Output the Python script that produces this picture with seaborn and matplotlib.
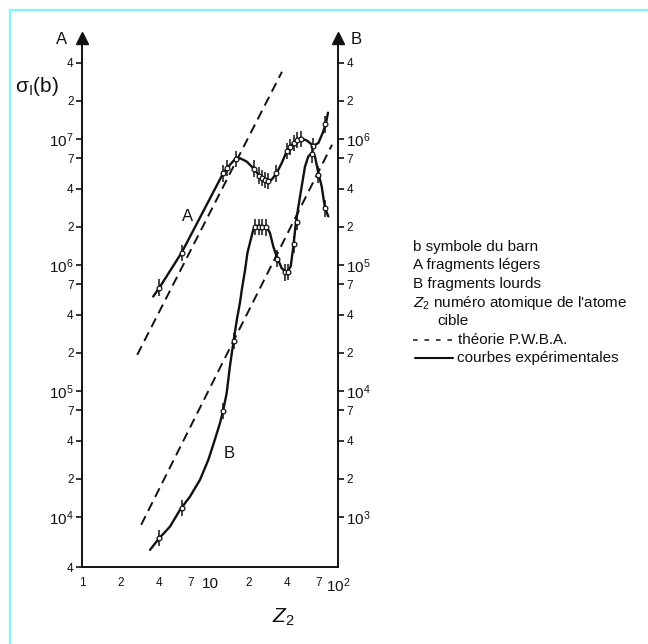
import numpy as np
import pandas as pd
import matplotlib
matplotlib.use("Agg")
import matplotlib.pyplot as plt
from matplotlib.lines import Line2D
from matplotlib.ticker import FixedLocator, FixedFormatter
import seaborn as sns

# ---- A : light fragments (left scale, barns) ----
z_curve_a = [3.60, 4.07, 6.01, 12.7, 13.9, 15.7, 17.2, 19.3, 21.8, 24.6, 27.7,
             30.3, 33.2, 36.3, 39.7, 44.8, 50.5, 56.9, 64.2, 70.2, 75.9, 80.6, 83.5]
sigma_curve_a = [5.6e5, 6.7e5, 1.25e6, 5.35e6, 6.0e6, 6.9e6, 7.0e6, 6.6e6, 5.85e6,
                 5.0e6, 4.67e6, 4.73e6, 5.35e6, 6.4e6, 7.9e6, 9.25e6, 1.01e7,
                 9.7e6, 8.8e6, 9.25e6, 1.11e7, 1.33e7, 1.61e7]
z_pts_a = [4.0, 6.0, 12.6, 13.5, 16.0, 22.0, 24.0, 25.5, 27.0, 28.5, 33.0, 40.0,
           42.0, 45.0, 48.0, 51.0, 64.0, 79.0]
sigma_pts_a = [6.6e5, 1.24e6, 5.3e6, 5.9e6, 6.9e6, 5.8e6, 5.1e6, 4.9e6, 4.7e6,
               4.65e6, 5.3e6, 8.0e6, 8.6e6, 9.3e6, 9.8e6, 1.0e7, 8.8e6, 1.3e7]
z_pwba_a = [2.7, 36.5]
sigma_pwba_a = [1.93e5, 3.4e7]

# ---- B : heavy fragments (right scale, barns) ----
z_curve_b = [3.40, 3.95, 4.87, 5.83, 6.98, 8.35, 9.70, 10.9, 11.97, 12.7, 13.5,
             14.3, 15.2, 16.2, 17.2, 17.7, 18.8, 19.6, 20.5, 21.8, 23.2, 27.7,
             29.4, 31.2, 33.2, 36.3, 39.7, 42.7, 44.8, 47.0, 50.5, 55.2, 58.6,
             62.3, 66.1, 70.2, 74.6, 79.1, 84.0]
sigma_curve_b = [547, 665, 837, 1137, 1449, 1968, 2830, 4080, 5550, 7060, 9590,
                 1.56e4, 2.39e4, 3.66e4, 5.1e4, 6.3e4, 9.1e4, 1.24e5, 1.49e5,
                 1.90e5, 2.04e5, 2.0e5, 1.79e5, 1.40e5, 1.16e5, 9.4e4, 8.6e4,
                 9.7e4, 1.40e5, 2.21e5, 3.48e5, 6.0e5, 7.24e5, 7.7e5, 7.24e5,
                 5.35e5, 4.18e5, 2.82e5, 2.42e5]
z_pts_b = [4.0, 6.0, 12.6, 15.4, 22.5, 24.0, 25.5, 27.5, 33.5, 38.5, 41.0, 45.5,
           47.5, 63.0, 70.0, 79.0]
sigma_pts_b = [680, 1180, 6900, 2.5e4, 2.0e5, 2.0e5, 2.0e5, 1.98e5, 1.12e5,
               8.7e4, 8.8e4, 1.45e5, 2.2e5, 7.5e5, 5.2e5, 2.8e5]
z_pwba_b = [2.9, 89.8]
sigma_pwba_b = [865, 8.96e5]

rel_err = 0.16  # relative size of the vertical error bars

# ---- axis ticks ----
x_ticks = [1, 2, 4, 7, 10, 20, 40, 70, 100]
x_labels = ["1", "2", "4", "7", "10", "2", "4", "7", "$10^{2}$"]
a_major = [1e4, 1e5, 1e6, 1e7]
a_major_labels = ["$10^{4}$", "$10^{5}$", "$10^{6}$", "$10^{7}$"]
a_minor = [4e3, 2e4, 4e4, 7e4, 2e5, 4e5, 7e5, 2e6, 4e6, 7e6, 2e7, 4e7]
a_minor_labels = ["4", "2", "4", "7", "2", "4", "7", "2", "4", "7", "2", "4"]
b_major = [1e3, 1e4, 1e5, 1e6]
b_major_labels = ["$10^{3}$", "$10^{4}$", "$10^{5}$", "$10^{6}$"]
b_minor = [2e3, 4e3, 7e3, 2e4, 4e4, 7e4, 2e5, 4e5, 7e5, 2e6, 4e6]
b_minor_labels = ["2", "4", "7", "2", "4", "7", "2", "4", "7", "2", "4"]

legend_lines = ["b symbole du barn", "A fragments légers", "B fragments lourds",
                r"$\mathit{Z}_{2}$ numéro atomique de l'atome", "cible",
                "théorie P.W.B.A.", "courbes expérimentales"]

sns.set_theme(style="white")
plt.rcParams["font.family"] = ["Liberation Sans", "DejaVu Sans"]
plt.rcParams["mathtext.fontset"] = "custom"
plt.rcParams["mathtext.rm"] = "Liberation Sans"
plt.rcParams["mathtext.it"] = "Liberation Sans:italic"
plt.rcParams["mathtext.default"] = "regular"

W, H = 648, 644
fig = plt.figure(figsize=(W / 100, H / 100), dpi=100, facecolor="white")


def fx(px):
    return px / W


def fy(py):
    return 1 - py / H


ax = fig.add_axes([fx(82), fy(567), fx(338) - fx(82), fy(38) - fy(567)])
ax.set_xscale("log")
ax.set_yscale("log")
ax.set_xlim(1, 100)
ax.set_ylim(4.0e3, 6.3e7)
ax2 = ax.twinx()
ax2.set_yscale("log")
ax2.set_ylim(4.0e2, 6.3e6)

ink = "#111111"
lw_curve = 1.7

# theory (dashed) lines
sns.lineplot(x=z_pwba_a, y=sigma_pwba_a, ax=ax, color=ink, lw=1.4,
             estimator=None, sort=False, legend=False)
ax.lines[-1].set_dashes((5, 3))
sns.lineplot(x=z_pwba_b, y=sigma_pwba_b, ax=ax2, color=ink, lw=1.4,
             estimator=None, sort=False, legend=False)
ax2.lines[-1].set_dashes((5, 3))

# experimental curves
curve_a = pd.DataFrame({"Z": z_curve_a, "sigma": sigma_curve_a})
curve_b = pd.DataFrame({"Z": z_curve_b, "sigma": sigma_curve_b})
sns.lineplot(data=curve_a, x="Z", y="sigma", ax=ax, color=ink, lw=lw_curve,
             estimator=None, sort=False, legend=False)
sns.lineplot(data=curve_b, x="Z", y="sigma", ax=ax2, color=ink, lw=lw_curve,
             estimator=None, sort=False, legend=False)
for line in ax.lines + ax2.lines:
    line.set_solid_joinstyle("round")

# measured points with error bars
for axis, zs, ss in ((ax, z_pts_a, sigma_pts_a), (ax2, z_pts_b, sigma_pts_b)):
    ss = np.asarray(ss)
    yerr = np.vstack([ss - ss / (1 + rel_err), ss * rel_err])
    axis.errorbar(zs, ss, yerr=yerr, fmt="o", ms=3.4, mfc="white", mec=ink,
                  mew=0.9, ecolor=ink, elinewidth=1.1, capsize=0, zorder=4)

# spines
for s in ("top", "right"):
    ax.spines[s].set_visible(False)
for s in ("top", "left", "bottom"):
    ax2.spines[s].set_visible(False)
for s in ("left", "bottom"):
    ax.spines[s].set_color(ink)
    ax.spines[s].set_linewidth(1.4)
ax2.spines["right"].set_color(ink)
ax2.spines["right"].set_linewidth(1.4)

# ticks
ax.xaxis.set_major_locator(FixedLocator(x_ticks))
ax.xaxis.set_major_formatter(FixedFormatter(x_labels))
ax.xaxis.set_minor_locator(FixedLocator([]))
ax.yaxis.set_major_locator(FixedLocator(a_major))
ax.yaxis.set_major_formatter(FixedFormatter(a_major_labels))
ax.yaxis.set_minor_locator(FixedLocator(a_minor))
ax.yaxis.set_minor_formatter(FixedFormatter(a_minor_labels))
ax2.yaxis.set_major_locator(FixedLocator(b_major))
ax2.yaxis.set_major_formatter(FixedFormatter(b_major_labels))
ax2.yaxis.set_minor_locator(FixedLocator(b_minor))
ax2.yaxis.set_minor_formatter(FixedFormatter(b_minor_labels))

for axis in (ax, ax2):
    axis.tick_params(which="both", direction="out", length=4, width=1.2,
                     color=ink, labelcolor=ink, pad=2)
    axis.tick_params(axis="y", which="major", labelsize=11)
    axis.tick_params(axis="y", which="minor", labelsize=8.5)
ax.tick_params(axis="x", labelsize=8.5, pad=3)
for lab, v in zip(ax.get_xticklabels(), x_ticks):
    if v in (10, 100):
        lab.set_fontsize(11)
ax.set_xlabel("")
ax.set_ylabel("")
ax2.set_ylabel("")

# arrow heads on both vertical axes
for xpos in (0, 1):
    ax.plot([xpos], [1.0], marker="^", ms=8, color=ink, transform=ax.transAxes,
            clip_on=False, zorder=6)

# axis titles
fig.text(fx(62), fy(40), "A", fontsize=12, color=ink, ha="center", va="center")
fig.text(fx(356), fy(40), "B", fontsize=12, color=ink, ha="center", va="center")
fig.text(fx(15), fy(86), r"$\sigma_{I}$(b)", fontsize=15, color=ink,
         ha="left", va="center")
fig.text(fx(283), fy(617), r"$\mathit{Z}_{2}$", fontsize=15, color=ink,
         ha="center", va="center")

# curve names
ax.text(6.7, 2.4e6, "A", fontsize=12, color=ink, ha="center", va="center")
ax2.text(14.1, 3.2e3, "B", fontsize=12, color=ink, ha="center", va="center")

# explanatory key
key_y = [247, 265, 284, 303, 321, 340, 358]
key_x = [413, 413, 413, 413, 437, 458, 457]
for txt, x, y in zip(legend_lines, key_x, key_y):
    fig.text(fx(x), fy(y), txt, fontsize=11, color=ink, ha="left", va="center")
fig.add_artist(Line2D([fx(413), fx(453)], [fy(340), fy(340)], color=ink, lw=1.1,
                      dashes=(3, 4.5)))
fig.add_artist(Line2D([fx(415), fx(453)], [fy(358), fy(358)], color=ink, lw=1.5))

# frame lines of the page
cyan = "#7ff7f7"
fig.add_artist(Line2D([fx(10), 1], [fy(10), fy(10)], color=cyan, lw=1.6))
fig.add_artist(Line2D([fx(10), fx(10)], [0, fy(10)], color=cyan, lw=1.6))

fig.savefig("out.png", dpi=100, facecolor="white")
